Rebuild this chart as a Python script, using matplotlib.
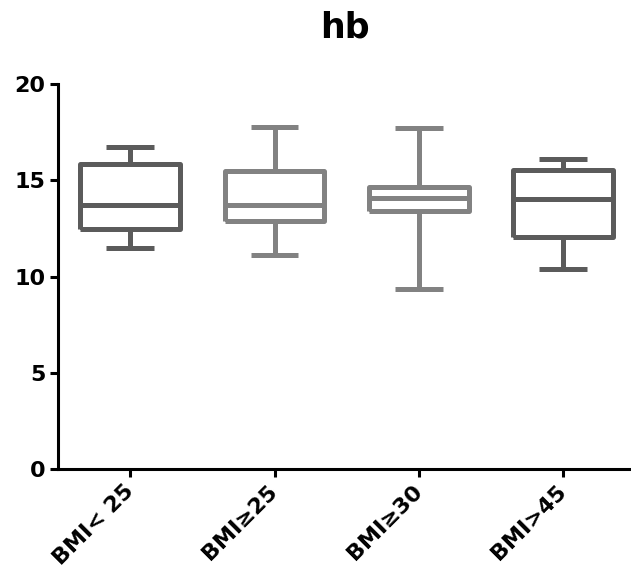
import matplotlib
matplotlib.use('Agg')
import matplotlib.pyplot as plt

groups = ['BMI< 25', 'BMI\u226525', 'BMI\u226530', 'BMI>45']
whislo = [11.5, 11.12, 9.33, 10.4]
q1 = [12.45, 12.9, 13.4, 12.07]
med = [13.7, 13.7, 14.1, 14.04]
q3 = [15.85, 15.5, 14.68, 15.55]
whishi = [16.72, 17.77, 17.7, 16.1]
colors = ['#5b5b5b', '#828282', '#828282', '#5b5b5b']

plt.rcParams['font.family'] = ['DejaVu Sans']
plt.rcParams['font.weight'] = 'bold'

fig = plt.figure(figsize=(6.31, 5.81), dpi=100)
ax = fig.add_axes([0.092, 0.193, 0.908, 0.662])

for i in range(len(groups)):
    stats = [{'whislo': whislo[i], 'q1': q1[i], 'med': med[i], 'q3': q3[i],
              'whishi': whishi[i], 'fliers': []}]
    c = colors[i]
    lp = dict(color=c, linewidth=3.6, solid_joinstyle='round', solid_capstyle='butt')
    ax.bxp(stats, positions=[i + 1], widths=0.69, capwidths=0.33, showfliers=False,
           boxprops=lp, whiskerprops=lp, capprops=lp, medianprops=lp)

ax.set_xlim(0.5, 4.47)
ax.set_ylim(0, 20)
ax.set_yticks([0, 5, 10, 15, 20])
ax.set_xticks(range(1, len(groups) + 1))
ax.set_xticklabels(groups, rotation=45, ha='right', va='center',
                   rotation_mode='anchor', fontsize=16, fontweight='bold')
for lab in ax.get_yticklabels():
    lab.set_fontsize(16)
    lab.set_fontweight('bold')

ax.spines['top'].set_visible(False)
ax.spines['right'].set_visible(False)
ax.spines['left'].set_linewidth(2.2)
ax.spines['bottom'].set_linewidth(2.2)
ax.tick_params(axis='both', length=6, width=2.2, pad=3)
ax.tick_params(axis='x', pad=8)

fig.text(0.547, 0.936, 'hb', ha='center', va='baseline', fontsize=25, fontweight='bold')

fig.savefig('out.png', dpi=100)
